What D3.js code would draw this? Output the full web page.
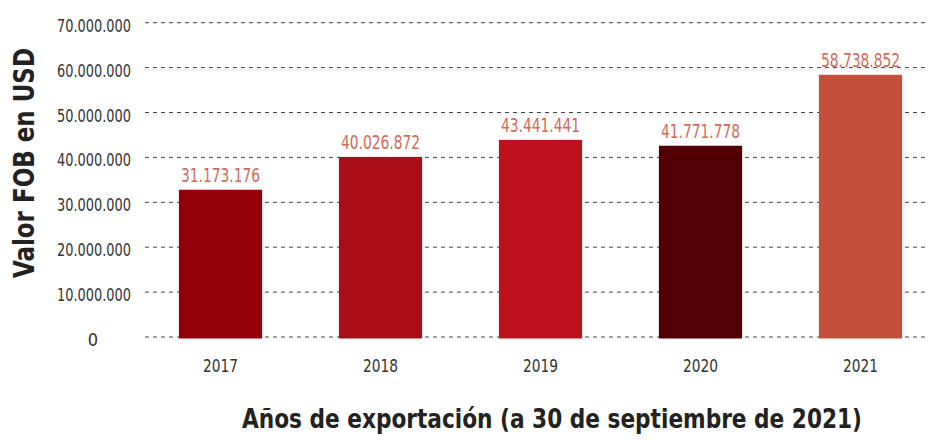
<!DOCTYPE html>
<html>
<head>
<meta charset="utf-8">
<script src="https://cdn.jsdelivr.net/npm/d3@7"></script>
<style>
  body { margin: 0; background: #fff; }
  text { font-family: "DejaVu Sans Condensed", "Liberation Sans Narrow", sans-serif; }
</style>
</head>
<body>
<div class="chart"></div>
<script>
// data
const years = ['2017', '2018', '2019', '2020', '2021'];
const barValues = [32800000, 40100000, 43900000, 42600000, 58400000];
const labels = ['31.173.176', '40.026.872', '43.441.441', '41.771.778', '58.738.852'];
const colors = ['#93000a', '#a90d18', '#bc111d', '#520003', '#c44f3b'];
const yTicks = [0, 10000000, 20000000, 30000000, 40000000, 50000000, 60000000, 70000000];

const width = 930, height = 441;

const svg = d3.select('.chart').append('svg')
    .attr('width', width)
    .attr('height', height);

const x = d3.scaleBand()
    .domain(years)
    .range([140.5, 940.5])
    .paddingInner(0.48)
    .paddingOuter(0.24);

const y = d3.scaleLinear()
    .domain([0, 70000000])
    .range([337, 22.7]);

const fmt = v => v === 0 ? '0' : d3.format(',')(v).replace(/,/g, '.');

// grid lines
svg.append('g')
    .selectAll('line')
    .data(yTicks)
    .join('line')
    .attr('x1', 145)
    .attr('x2', 926)
    .attr('y1', d => y(d))
    .attr('y2', d => y(d))
    .attr('stroke', '#444')
    .attr('stroke-width', 1)
    .attr('stroke-dasharray', '4,4');

// y tick labels (narrow font squeezed with textLength)
svg.append('g')
    .selectAll('text')
    .data(yTicks)
    .join('text')
    .text(d => fmt(d))
    .attr('x', 131)
    .attr('y', d => y(d) + 9)
    .attr('text-anchor', 'end')
    .attr('font-size', 18)
    .attr('fill', '#333')
    .each(function(d) {
        if (d !== 0) d3.select(this).attr('textLength', 74).attr('lengthAdjust', 'spacingAndGlyphs');
        else d3.select(this).attr('x', 98);
    });

// bars
svg.append('g')
    .selectAll('rect')
    .data(years)
    .join('rect')
    .attr('x', d => x(d))
    .attr('width', x.bandwidth())
    .attr('y', (d, i) => y(barValues[i]))
    .attr('height', (d, i) => y(0) - y(barValues[i]) + 1.5)
    .attr('fill', (d, i) => colors[i]);

// value labels
svg.append('g')
    .selectAll('text')
    .data(years)
    .join('text')
    .text((d, i) => labels[i])
    .attr('x', d => x(d) + x.bandwidth() / 2)
    .attr('y', (d, i) => y(barValues[i]) - 8)
    .attr('text-anchor', 'middle')
    .attr('font-size', 19)
    .attr('textLength', 79)
    .attr('lengthAdjust', 'spacingAndGlyphs')
    .attr('fill', '#d0695a');

// x labels
svg.append('g')
    .selectAll('text')
    .data(years)
    .join('text')
    .text(d => d)
    .attr('x', d => x(d) + x.bandwidth() / 2)
    .attr('y', 371.5)
    .attr('text-anchor', 'middle')
    .attr('font-size', 17)
    .attr('textLength', 35)
    .attr('lengthAdjust', 'spacingAndGlyphs')
    .attr('fill', '#333');

// axis titles
svg.append('text')
    .text('Valor FOB en USD')
    .attr('transform', 'translate(34,163) rotate(-90)')
    .attr('text-anchor', 'middle')
    .attr('font-size', 29)
    .attr('font-weight', 'bold')
    .attr('textLength', 230)
    .attr('lengthAdjust', 'spacingAndGlyphs')
    .attr('fill', '#222');

svg.append('text')
    .text('Años de exportación (a 30 de septiembre de 2021)')
    .attr('x', 552)
    .attr('y', 428)
    .attr('text-anchor', 'middle')
    .attr('font-size', 27)
    .attr('font-weight', 'bold')
    .attr('textLength', 620)
    .attr('lengthAdjust', 'spacingAndGlyphs')
    .attr('fill', '#222');
</script>
</body>
</html>
